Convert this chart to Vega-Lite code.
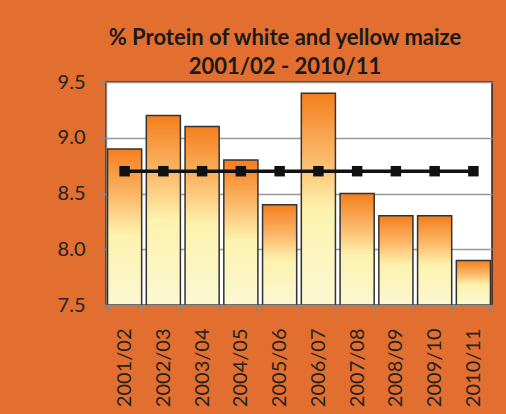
{
  "$schema": "https://vega.github.io/schema/vega-lite/v6.json",
  "autosize": {"type": "none"},
  "width": 386,
  "height": 223,
  "padding": {"left": 106, "top": 82, "right": 14, "bottom": 109},
  "background": "#E26F30",
  "config": {
    "font": "Lato",
    "view": {"fill": "white", "stroke": "#222", "strokeWidth": 1.5}
  },
  "title": {
    "text": ["% Protein of white and yellow maize", "2001/02 - 2010/11"],
    "font": "Lato",
    "fontSize": 22,
    "fontWeight": "bold",
    "color": "#1a1a1a",
    "lineHeight": 29,
    "offset": -7,
    "dx": -14
  },
  "data": {
    "values": [
      {"season": "2001/02", "protein": 8.9, "avg": 8.7},
      {"season": "2002/03", "protein": 9.2, "avg": 8.7},
      {"season": "2003/04", "protein": 9.1, "avg": 8.7},
      {"season": "2004/05", "protein": 8.8, "avg": 8.7},
      {"season": "2005/06", "protein": 8.4, "avg": 8.7},
      {"season": "2006/07", "protein": 9.4, "avg": 8.7},
      {"season": "2007/08", "protein": 8.5, "avg": 8.7},
      {"season": "2008/09", "protein": 8.3, "avg": 8.7},
      {"season": "2009/10", "protein": 8.3, "avg": 8.7},
      {"season": "2010/11", "protein": 7.9, "avg": 8.7}
    ]
  },
  "encoding": {
    "x": {
      "field": "season",
      "type": "nominal",
      "sort": null,
      "title": null,
      "scale": {"paddingInner": 0.12, "paddingOuter": 0.04},
      "axis": {
        "labelAngle": -90,
        "labelFontSize": 20,
        "labelColor": "#222",
        "labelPadding": 16,
        "tickBand": "extent",
        "tickSize": 7,
        "tickColor": "#888",
        "tickWidth": 1.5,
        "domainColor": "#888",
        "domainWidth": 1.5,
        "zindex": 1
      }
    }
  },
  "layer": [
    {
      "mark": {
        "type": "bar",
        "stroke": "#333",
        "strokeWidth": 1.5,
        "color": {
          "gradient": "linear",
          "x1": 0, "y1": 0, "x2": 0, "y2": 1,
          "stops": [
            {"offset": 0, "color": "#F47E1E"},
            {"offset": 0.3, "color": "#FBB868"},
            {"offset": 0.55, "color": "#FDF2AE"},
            {"offset": 1, "color": "#FBF8D2"}
          ]
        }
      },
      "encoding": {
        "y": {
          "field": "protein",
          "type": "quantitative",
          "title": null,
          "scale": {"domain": [7.5, 9.5], "zero": false, "nice": false},
          "axis": {
            "values": [7.5, 8.0, 8.5, 9.0, 9.5],
            "format": ".1f",
            "labelFontSize": 20,
            "labelColor": "#222",
            "labelPadding": 14,
            "tickSize": 7,
            "tickColor": "#888",
            "tickWidth": 1.5,
            "domainColor": "#888",
            "domainWidth": 1.5,
            "grid": true,
            "gridColor": "#999",
            "gridWidth": 1.5
          }
        },
        "y2": {"datum": 7.5}
      }
    },
    {
      "mark": {"type": "line", "color": "#111", "strokeWidth": 3.5},
      "encoding": {
        "y": {"field": "avg", "type": "quantitative"}
      }
    },
    {
      "mark": {"type": "point", "shape": "square", "filled": true, "color": "#111", "size": 110, "opacity": 1},
      "encoding": {
        "y": {"field": "avg", "type": "quantitative"}
      }
    }
  ]
}
